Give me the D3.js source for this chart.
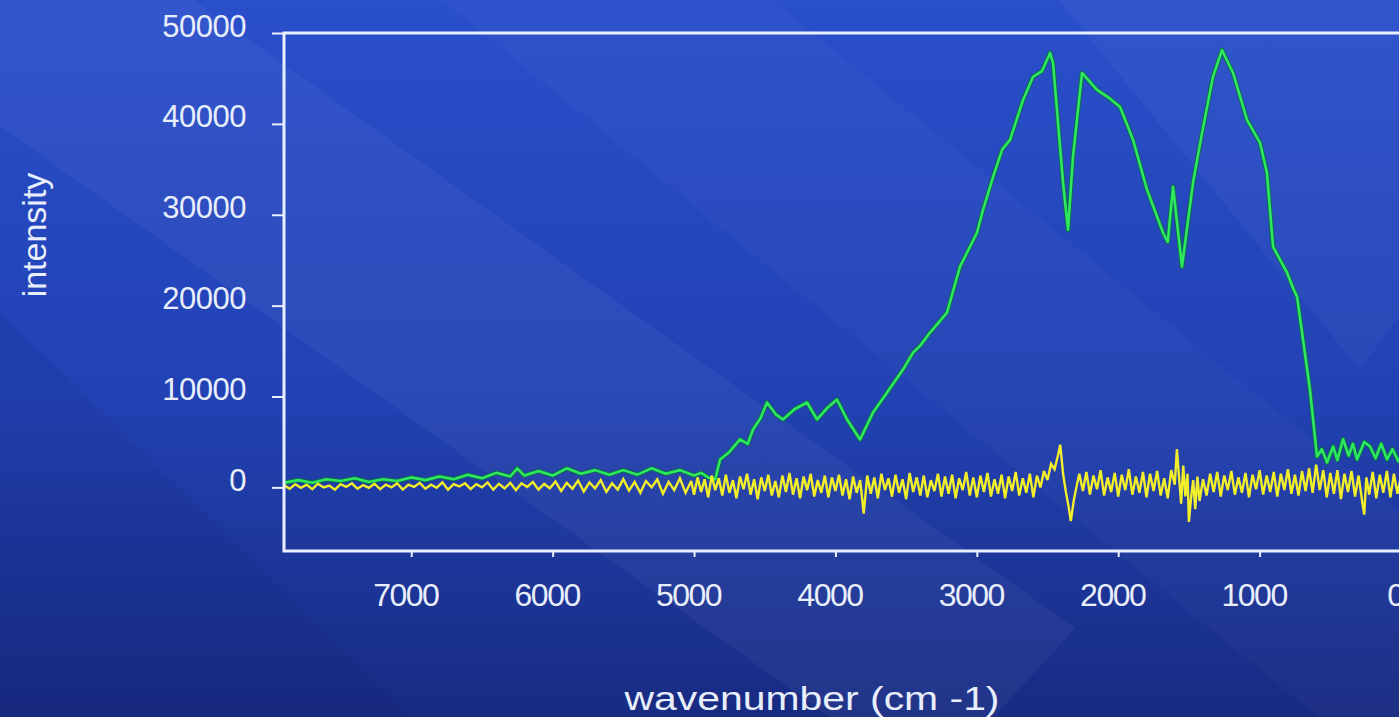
<!DOCTYPE html>
<html>
<head>
<meta charset="utf-8">
<script src="https://cdn.jsdelivr.net/npm/d3@7"></script>
<style>
  html, body { margin: 0; padding: 0; overflow: hidden; background: #2040b0; }
  svg { display: block; }
  text { font-family: "Liberation Sans", Arial, sans-serif; fill: #e8eefa; }
</style>
</head>
<body>
<div id="chart"></div>
<script>
// axis ticks
const yTicks = [0, 10000, 20000, 30000, 40000, 50000];
const xTicks = [7000, 6000, 5000, 4000, 3000, 2000, 1000, 0];

// green trace: [wavenumber, intensity]
const greenTrace = [
  [7900, 500], [7800, 800], [7700, 500], [7600, 900], [7500, 700], [7400, 1000],
  [7300, 600], [7200, 900], [7100, 700], [7000, 1100], [6900, 800], [6800, 1200],
  [6700, 900], [6600, 1400], [6500, 1000], [6400, 1600], [6300, 1200], [6250, 2100],
  [6200, 1300], [6100, 1800], [6000, 1300], [5900, 2100], [5800, 1500], [5700, 1900],
  [5600, 1400], [5500, 1900], [5400, 1400], [5300, 2100], [5200, 1500], [5100, 1900],
  [5000, 1300], [4950, 1600], [4900, 1100], [4850, 900], [4816, 3077], [4750, 3900],
  [4675, 5275], [4620, 4800], [4583, 6374], [4530, 7600], [4484, 9341], [4420, 8000],
  [4371, 7473], [4290, 8600], [4201, 9341], [4130, 7473], [4060, 8700], [3989, 9670],
  [3918, 7473], [3826, 5275], [3734, 8242], [3635, 10440], [3522, 12967], [3451, 14835],
  [3400, 15600], [3331, 17033], [3211, 19231], [3119, 24286], [2999, 28022], [2956, 30549],
  [2885, 34176], [2820, 37200], [2765, 38242], [2673, 42637], [2603, 45165], [2540, 45800],
  [2482, 47802], [2461, 46703], [2390, 33516], [2355, 28352], [2320, 36374], [2256, 45604],
  [2150, 43736], [2060, 42800], [1987, 41868], [1895, 38242], [1796, 32747], [1683, 28022],
  [1650, 27000], [1612, 33077], [1549, 24286], [1471, 33516], [1407, 39011], [1330, 45165],
  [1266, 48132], [1188, 45604], [1089, 40440], [997, 37912], [948, 34615], [905, 26484],
  [806, 23626], [760, 21800], [735, 20989], [644, 10769], [594, 3407], [560, 4200],
  [523, 2747], [480, 4500], [450, 3000], [410, 5300], [370, 3500], [340, 4800],
  [311, 3077], [260, 5000], [219, 4500], [180, 3200], [140, 4800], [99, 3077],
  [60, 4200], [14, 2750]
];

// yellow trace, low-noise part: [wavenumber, intensity]
const yellowLeft = [
  [7900, 250], [7860, -150], [7820, 350], [7780, -50], [7740, 300], [7700, -200],
  [7660, 400], [7620, 0], [7580, 200], [7540, -250], [7500, 350], [7460, 50],
  [7420, 450], [7380, -150], [7340, 250], [7300, -50], [7260, 400], [7220, -200],
  [7180, 300], [7140, 0], [7100, 450], [7060, -250], [7020, 300], [6980, 50],
  [6940, 500], [6900, -150], [6860, 300], [6820, -50], [6780, 550], [6740, -250],
  [6700, 350], [6660, 100], [6620, 450], [6580, -200], [6540, 350], [6500, 0],
  [6460, 550], [6420, -250], [6380, 400], [6340, -100], [6300, 500], [6260, -300],
  [6220, 450], [6180, 50], [6140, 600], [6100, -250], [6060, 400], [6020, -100],
  [5980, 650], [5940, -400], [5900, 500], [5860, -150], [5820, 750], [5780, -450],
  [5740, 550], [5700, -100], [5660, 800], [5620, -500], [5580, 450], [5540, -250],
  [5500, 900], [5460, -350], [5420, 600], [5380, -600], [5340, 700], [5300, 0],
  [5260, 900], [5220, -700], [5180, 600], [5140, -300], [5100, 1000], [5060, -600],
  [5020, 700]
];

// yellow trace, noisy part: [wavenumber, intensity]
const yellowRight = [
  [5000, -800], [4975, 1100], [4950, -500], [4925, 900], [4900, -1100], [4875, 1300],
  [4850, -300], [4825, 1000], [4800, -900], [4775, 1400], [4750, -600], [4725, 800],
  [4700, -1200], [4675, 1200], [4650, -200], [4625, 1500], [4600, -800], [4575, 900],
  [4550, -1300], [4525, 1100], [4500, -400], [4475, 1400], [4450, -900], [4425, 700],
  [4400, -1100], [4375, 1300], [4350, -500], [4325, 1600], [4300, -800], [4275, 1000],
  [4250, -1200], [4225, 1200], [4200, -300], [4175, 1500], [4150, -1000], [4125, 800],
  [4100, -600], [4075, 1300], [4050, -1100], [4025, 1100], [4000, -400], [3975, 1400],
  [3950, -900], [3925, 900], [3900, -1300], [3875, 1200], [3850, -600], [3825, 800],
  [3800, -2900], [3775, 1300], [3750, -700], [3725, 1100], [3700, -1200], [3675, 1500],
  [3650, -300], [3625, 1000], [3600, -1000], [3575, 1400], [3550, -600], [3525, 900],
  [3500, -1300], [3475, 1600], [3450, -500], [3425, 1100], [3400, -900], [3375, 1300],
  [3350, -1100], [3325, 800], [3300, -400], [3275, 1500], [3250, -1000], [3225, 1200],
  [3200, -700], [3175, 1400], [3150, -1200], [3125, 1000], [3100, -300], [3075, 1700],
  [3050, -900], [3025, 1100], [3000, -1100], [2975, 1300], [2950, -500], [2925, 1600],
  [2900, -1000], [2875, 900], [2850, -700], [2825, 1400], [2800, -1200], [2775, 1200],
  [2750, -400], [2725, 1700], [2700, -900], [2675, 1000], [2650, -600], [2625, 1500],
  [2600, -1100], [2575, 1300], [2550, 0], [2525, 1800], [2500, 800], [2475, 2600],
  [2450, 2000], [2425, 3600], [2410, 4700], [2390, 1500], [2370, -500], [2350, -2200],
  [2335, -3700], [2315, -1500], [2300, -300], [2275, 1500], [2250, -400], [2225, 1700],
  [2200, -800], [2175, 1300], [2150, -200], [2125, 1900], [2100, -900], [2075, 1100],
  [2050, -500], [2025, 1600], [2000, -1000], [1975, 1400], [1950, -300], [1925, 2000],
  [1900, -800], [1875, 1200], [1850, -600], [1825, 1700], [1800, -1100], [1775, 1500],
  [1750, -400], [1725, 1800], [1700, -900], [1675, 1000], [1650, -1200], [1625, 1900],
  [1600, 300], [1585, 4200], [1570, 1200], [1555, -1800], [1540, 2400], [1525, -1000],
  [1510, 1500], [1500, -3800], [1485, -1200], [1470, 800], [1455, -2400], [1440, 1200],
  [1425, -1500], [1400, 900], [1375, -900], [1350, 1500], [1325, -500], [1300, 1700],
  [1275, -1000], [1250, 1300], [1225, -300], [1200, 1800], [1175, -800], [1150, 1100],
  [1125, -600], [1100, 1600], [1075, -1100], [1050, 1400], [1025, -200], [1000, 1900],
  [975, -800], [950, 1300], [925, -500], [900, 1700], [875, -1000], [850, 1500],
  [825, -300], [800, 2000], [775, -700], [750, 1400], [725, -900], [700, 1800],
  [675, -400], [650, 2100], [625, -600], [600, 2500], [575, -300], [550, 1900],
  [525, -1100], [500, 1600], [475, -700], [450, 1900], [425, -1300], [400, 1500],
  [375, -500], [350, 1800], [325, -1000], [300, 1300], [275, -1500], [260, -3000],
  [245, 1100], [225, -800], [200, 1700], [175, -1200], [150, 1400], [125, -600],
  [100, 1800], [75, -1100], [50, 1500], [25, -700], [0, 1200]
];

const W = 1399, H = 717;
const margin = { top: 33, right: -2, bottom: 166, left: 284 };

const svg = d3.select('#chart').append('svg')
  .attr('width', W)
  .attr('height', H);

const defs = svg.append('defs');
const grad = defs.append('linearGradient')
  .attr('id', 'bg')
  .attr('x1', 0).attr('y1', 0).attr('x2', 0).attr('y2', 1);
grad.append('stop').attr('offset', '0%').attr('stop-color', '#2a4fcb');
grad.append('stop').attr('offset', '55%').attr('stop-color', '#2242b4');
grad.append('stop').attr('offset', '100%').attr('stop-color', '#182b82');

defs.append('clipPath').attr('id', 'plotclip')
  .append('rect')
  .attr('x', margin.left + 1)
  .attr('y', margin.top)
  .attr('width', W - margin.left)
  .attr('height', H - margin.bottom - margin.top);

svg.append('rect')
  .attr('width', W).attr('height', H)
  .attr('fill', 'url(#bg)');

// diagonal sheen bands of the slide background
const bands = [
  { pts: [[430, -10], [760, -10], [1410, 520], [1410, 727], [1330, 727]], fill: '#ffffff', op: 0.025 },
  { pts: [[-317, -100], [53, -100], [1075, 628], [985, 727], [830, 717]], fill: '#ffffff', op: 0.045 },
  { pts: [[-10, 300], [-10, 727], [420, 727]], fill: '#000030', op: 0.06 },
  { pts: [[1050, -10], [1410, -10], [1410, 300], [1360, 370]], fill: '#ffffff', op: 0.035 }
];
svg.append('g').selectAll('polygon')
  .data(bands)
  .join('polygon')
  .attr('points', d => d.pts.map(p => p.join(',')).join(' '))
  .attr('fill', d => d.fill)
  .attr('opacity', d => d.op);

const x = d3.scaleLinear()
  .domain([7900, 0])
  .range([margin.left, W - margin.right]);

const y = d3.scaleLinear()
  .domain([-7000, 50000])
  .range([H - margin.bottom, margin.top]);

// traces
const line = d3.line()
  .x(d => x(d[0]))
  .y(d => y(d[1]));

const plot = svg.append('g').attr('clip-path', 'url(#plotclip)');

plot.append('path')
  .datum(greenTrace)
  .attr('fill', 'none')
  .attr('stroke', '#0d6a50')
  .attr('stroke-width', 4.6)
  .attr('stroke-linejoin', 'round')
  .attr('d', line);

plot.append('path')
  .datum(greenTrace)
  .attr('fill', 'none')
  .attr('stroke', '#2ee860')
  .attr('stroke-width', 2.6)
  .attr('stroke-linejoin', 'round')
  .attr('d', line);

plot.append('path')
  .datum(yellowLeft.concat(yellowRight))
  .attr('fill', 'none')
  .attr('stroke', '#f2ee2a')
  .attr('stroke-width', 2.4)
  .attr('stroke-linejoin', 'miter')
  .attr('stroke-miterlimit', 3)
  .attr('d', line);

// axes
const axisColor = '#e8f0ff';

const yAxis = svg.append('g')
  .attr('transform', `translate(${margin.left},0)`)
  .call(d3.axisLeft(y).tickValues(yTicks).tickSize(12).tickPadding(26).tickFormat(d3.format('d')));
yAxis.select('.domain').remove();
yAxis.selectAll('line').attr('stroke', axisColor).attr('stroke-width', 2);
yAxis.selectAll('text')
  .attr('font-size', 31)
  .attr('letter-spacing', -0.5)
  .attr('fill', '#e8eefa')
  .attr('dy', '0.1em');

const xAxis = svg.append('g')
  .attr('transform', `translate(0,${H - margin.bottom})`)
  .call(d3.axisBottom(x).tickValues(xTicks).tickSize(6).tickPadding(26).tickFormat(d3.format('d')));
xAxis.select('.domain').remove();
xAxis.selectAll('line').attr('stroke', axisColor).attr('stroke-width', 2);
xAxis.selectAll('text')
  .attr('font-size', 32)
  .attr('letter-spacing', -1.5)
  .attr('fill', '#e8eefa')
  .attr('dx', -6);

// frame (right edge falls off the slide)
svg.append('path')
  .attr('d', `M${W + 10},${margin.top} H${margin.left} V${H - margin.bottom} H${W + 10}`)
  .attr('fill', 'none')
  .attr('stroke', axisColor)
  .attr('stroke-width', 3);

// axis titles
svg.append('text')
  .attr('x', 812)
  .attr('y', 710)
  .attr('text-anchor', 'middle')
  .attr('font-size', 34)
  .attr('textLength', 375)
  .attr('lengthAdjust', 'spacingAndGlyphs')
  .text('wavenumber (cm -1)');

svg.append('text')
  .attr('transform', 'translate(46,235) rotate(-90)')
  .attr('text-anchor', 'middle')
  .attr('font-size', 34)
  .text('intensity');
</script>
</body>
</html>
